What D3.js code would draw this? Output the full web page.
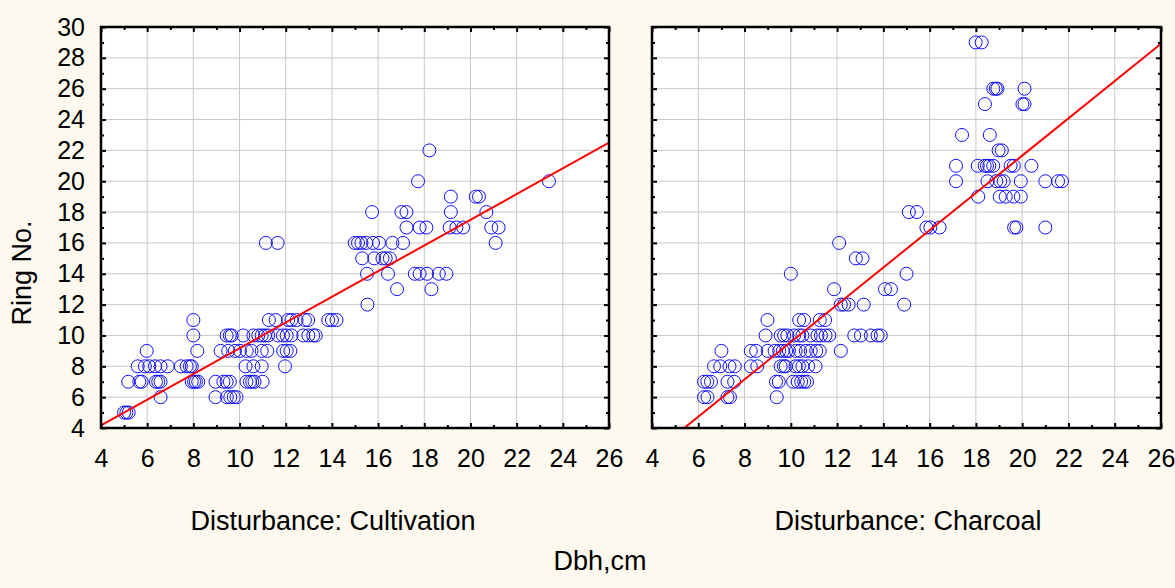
<!DOCTYPE html>
<html>
<head>
<meta charset="utf-8">
<script src="https://cdn.jsdelivr.net/npm/d3@7"></script>
<style>
  body { margin: 0; background: #fdf9ef; }
  text { font-family: "Liberation Sans", Arial, sans-serif; fill: #000; }
</style>
</head>
<body>
<div id="chart"></div>
<script>
var cultRings = [5, 6, 7, 8, 9, 10, 11, 12, 13, 14, 15, 16, 17, 18, 19, 20, 22];
var cultDbh = [
  [5.0, 5.1, 5.2],
  [6.58, 8.96, 9.45, 9.6, 9.75, 9.87],
  [5.18, 5.66, 5.76, 6.38, 6.48, 6.58, 7.93, 8.03, 8.11, 8.21, 8.96, 9.3, 9.44, 9.58, 10.3, 10.45, 10.55, 10.65, 11.0],
  [5.59, 5.9, 6.09, 6.34, 6.58, 6.89, 7.46, 7.71, 7.85, 7.93, 10.26, 10.6, 10.96, 11.97],
  [5.98, 8.17, 9.18, 9.51, 9.8, 10.02, 10.31, 10.52, 10.96, 11.2, 11.89, 12.04, 12.2],
  [8.0, 9.44, 9.58, 9.66, 10.16, 10.6, 10.81, 10.96, 11.1, 11.24, 11.67, 11.88, 12.04, 12.25, 12.76, 12.98, 13.19, 13.3],
  [8.0, 11.27, 11.56, 12.11, 12.25, 12.47, 12.83, 12.97, 13.84, 14.0, 14.2],
  [15.54],
  [16.82, 18.31],
  [15.52, 16.43, 17.59, 17.8, 18.12, 18.63, 18.96],
  [15.31, 15.83, 16.19, 16.33, 16.51],
  [11.14, 11.65, 14.99, 15.13, 15.28, 15.49, 15.78, 16.04, 16.62, 17.08, 21.09],
  [17.23, 17.8, 18.09, 19.1, 19.39, 19.68, 20.9, 21.22],
  [15.74, 17.01, 17.23, 19.15, 20.69],
  [19.15, 20.23, 20.37],
  [17.73, 23.4],
  [18.22]
];
var charRings = [6, 7, 8, 9, 10, 11, 12, 13, 14, 15, 16, 17, 18, 19, 20, 21, 22, 23, 25, 26, 29];
var charDbh = [
  [6.25, 6.4, 7.26, 7.37, 9.39],
  [6.25, 6.39, 6.55, 7.26, 7.55, 9.36, 9.48, 10.1, 10.3, 10.45, 10.58, 10.7],
  [6.68, 6.95, 7.35, 7.58, 8.27, 8.55, 9.56, 9.7, 9.78, 10.2, 10.35, 10.5, 10.75, 11.07],
  [7.0, 8.27, 8.5, 9.0, 9.3, 9.5, 9.65, 9.8, 9.92, 10.21, 10.4, 10.65, 10.86, 11.1, 11.25, 12.16],
  [8.91, 9.56, 9.71, 9.85, 10.14, 10.36, 10.5, 10.86, 11.15, 11.3, 11.5, 11.66, 12.74, 13.03, 13.46, 13.75, 13.89],
  [8.99, 10.36, 10.57, 11.25, 11.48],
  [12.16, 12.3, 12.5, 13.15, 14.9],
  [11.87, 14.07, 14.33],
  [10.0, 15.0],
  [12.81, 13.1],
  [12.09],
  [15.86, 16.03, 16.43, 19.65, 19.75, 21.0],
  [15.1, 15.45],
  [18.1, 19.03, 19.29, 19.62, 19.94],
  [17.14, 18.5, 18.88, 19.05, 19.2, 19.94, 21.0, 21.55, 21.72],
  [17.14, 18.08, 18.38, 18.48, 18.58, 18.75, 19.5, 19.64, 20.4],
  [18.98, 19.12],
  [17.4, 18.6],
  [18.39, 20.01, 20.1],
  [18.75, 18.86, 18.93, 20.1],
  [17.99, 18.25]
];
// fitted lines [intercept, slope]
var cultFit = [0.84, 0.833];
var charFit = [-2.52, 1.209];
var panelTitles = ["Disturbance: Cultivation", "Disturbance: Charcoal"];
var xTicks = d3.range(4, 27, 2);
var yTicks = d3.range(4, 31, 2);

function toPoints(rings, dbh) {
  var pts = [];
  rings.forEach(function (r, i) {
    dbh[i].forEach(function (d) { pts.push({ x: d, y: r }); });
  });
  return pts;
}

var W = 1175, H = 588;
var svg = d3.select("#chart").append("svg")
  .attr("width", W).attr("height", H);

var plotTop = 27, plotBottom = 428;
var panels = [
  { left: 101, right: 609, pts: toPoints(cultRings, cultDbh), fit: cultFit, title: panelTitles[0], tx: 333 },
  { left: 652, right: 1161, pts: toPoints(charRings, charDbh), fit: charFit, title: panelTitles[1], tx: 908 }
];

var y = d3.scaleLinear().domain([4, 30]).range([plotBottom, plotTop]);

panels.forEach(function (p, k) {
  var x = d3.scaleLinear().domain([4, 26]).range([p.left, p.right]);
  var g = svg.append("g");

  g.append("rect")
    .attr("x", p.left).attr("y", plotTop)
    .attr("width", p.right - p.left).attr("height", plotBottom - plotTop)
    .attr("fill", "#fff");

  // grid
  g.selectAll(".vg").data(xTicks.slice(1, -1)).enter().append("line")
    .attr("x1", d => x(d)).attr("x2", d => x(d))
    .attr("y1", plotTop).attr("y2", plotBottom)
    .attr("stroke", "#c8c8c8").attr("stroke-width", 1);
  g.selectAll(".hg").data(yTicks.slice(1, -1)).enter().append("line")
    .attr("x1", p.left).attr("x2", p.right)
    .attr("y1", d => y(d)).attr("y2", d => y(d))
    .attr("stroke", "#c8c8c8").attr("stroke-width", 1);

  var clipId = "clip" + k;
  svg.append("clipPath").attr("id", clipId).append("rect")
    .attr("x", p.left).attr("y", plotTop)
    .attr("width", p.right - p.left).attr("height", plotBottom - plotTop);

  // points
  g.selectAll(".pt").data(p.pts).enter().append("circle")
    .attr("cx", d => x(d.x)).attr("cy", d => y(d.y))
    .attr("r", 6.5)
    .attr("fill", "none")
    .attr("stroke", "#1010ff")
    .attr("stroke-width", 1);

  // regression line
  var line = d3.line().x(d => x(d)).y(d => y(p.fit[0] + p.fit[1] * d));
  g.append("path")
    .datum([4, 26])
    .attr("d", line)
    .attr("clip-path", "url(#" + clipId + ")")
    .attr("fill", "none")
    .attr("stroke", "#ff0000")
    .attr("stroke-width", 2);

  // inward ticks on every side
  var xMinor = d3.range(5, 26, 2), yMinor = d3.range(5, 30, 2);
  g.append("g").call(d3.axisBottom(x).tickValues(xMinor).tickSize(-3).tickFormat(""))
    .attr("transform", "translate(0," + plotBottom + ")");
  g.append("g").call(d3.axisTop(x).tickValues(xMinor).tickSize(-3).tickFormat(""))
    .attr("transform", "translate(0," + plotTop + ")");
  g.append("g").call(d3.axisLeft(y).tickValues(yMinor).tickSize(-3).tickFormat(""))
    .attr("transform", "translate(" + p.left + ",0)");
  g.append("g").call(d3.axisRight(y).tickValues(yMinor).tickSize(-3).tickFormat(""))
    .attr("transform", "translate(" + p.right + ",0)");

  var xb = g.append("g").call(d3.axisBottom(x).tickValues(xTicks).tickSize(-5).tickPadding(39))
    .attr("transform", "translate(0," + plotBottom + ")");
  g.append("g").call(d3.axisTop(x).tickValues(xTicks).tickSize(-5).tickFormat(""))
    .attr("transform", "translate(0," + plotTop + ")");
  var yl = g.append("g").call(d3.axisLeft(y).tickValues(yTicks).tickSize(-5).tickPadding(16))
    .attr("transform", "translate(" + p.left + ",0)");
  g.append("g").call(d3.axisRight(y).tickValues(yTicks).tickSize(-5).tickFormat(""))
    .attr("transform", "translate(" + p.right + ",0)");
  if (k === 1) yl.selectAll("text").remove();

  g.selectAll(".domain").remove();
  g.selectAll(".tick line").attr("stroke", "#000").attr("stroke-width", 2);
  g.selectAll(".tick text")
    .style("font-family", "'Liberation Sans', Arial, sans-serif")
    .style("font-size", "25px").attr("fill", "#000");
  xb.selectAll(".tick text").attr("dy", "0");

  g.append("rect")
    .attr("x", p.left).attr("y", plotTop)
    .attr("width", p.right - p.left).attr("height", plotBottom - plotTop)
    .attr("fill", "none").attr("stroke", "#000").attr("stroke-width", 2.5);

  svg.append("text")
    .attr("x", p.tx).attr("y", 530)
    .attr("text-anchor", "middle")
    .style("font-size", "27px")
    .text(p.title);
});

svg.append("text")
  .attr("x", 600).attr("y", 570)
  .attr("text-anchor", "middle")
  .style("font-size", "27px")
  .text("Dbh,cm");

svg.append("text")
  .attr("transform", "translate(31,273) rotate(-90)")
  .attr("text-anchor", "middle")
  .style("font-size", "27px")
  .text("Ring No.");
</script>
</body>
</html>
